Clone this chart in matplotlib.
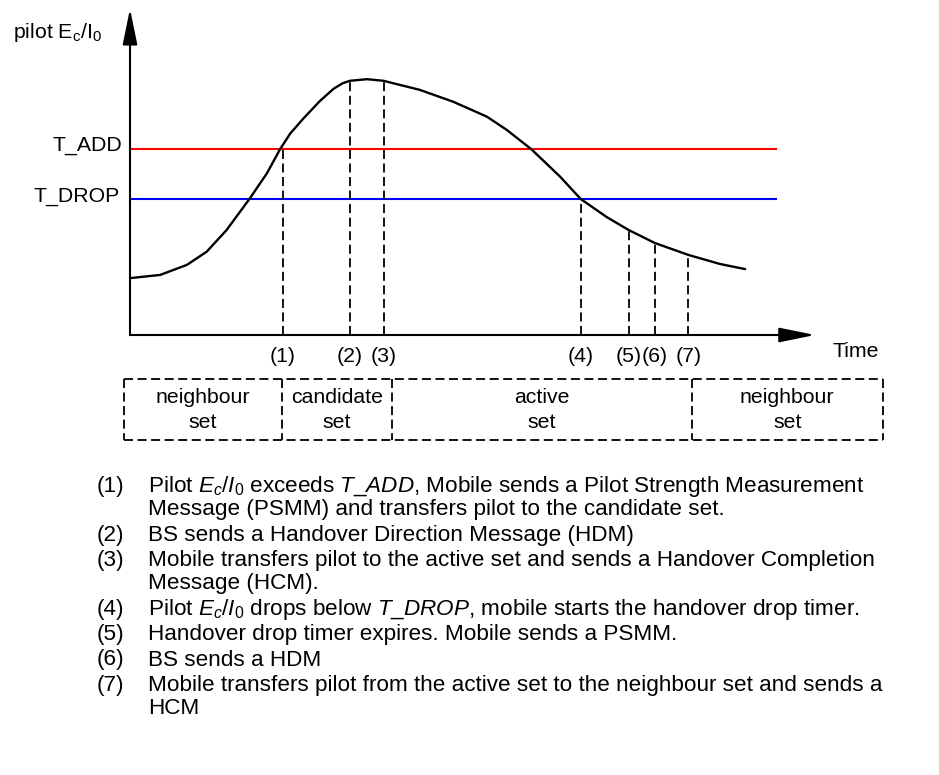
import matplotlib
matplotlib.use("Agg")
import matplotlib.pyplot as plt

plt.rcParams['font.family'] = ['Liberation Sans', 'DejaVu Sans']
plt.rcParams['mathtext.fontset'] = 'custom'
plt.rcParams['mathtext.rm'] = 'Liberation Sans'
plt.rcParams['mathtext.it'] = 'Liberation Sans:italic'
plt.rcParams['mathtext.bf'] = 'Liberation Sans:bold'

# -----------------------------
# DATA (time / pilot level in arbitrary units)
# -----------------------------
curve_t = [0, 4.4, 8.3, 11.2, 14.1, 17.5, 20.0, 21.9, 23.4, 25.3, 27.7, 29.7,
           31.0, 32.1, 34.6, 37.0, 42.3, 47.2, 52.1, 55.0, 58.6, 62.8, 65.8,
           69.6, 72.8, 76.6, 81.5, 86.1, 89.8]
curve_level = [17.6, 18.6, 21.7, 25.8, 32.5, 42.3, 50.1, 57.5, 62.4, 67.0, 72.4,
               76.2, 77.9, 78.7, 79.2, 78.7, 75.9, 72.2, 67.6, 63.5, 57.5, 49.0,
               42.1, 36.5, 32.5, 28.5, 24.8, 22.0, 20.4]

t_add = 57.6
t_drop = 42.1
threshold_end = 94.3

event_labels = ['(1)', '(2)', '(3)', '(4)', '(5)', '(6)', '(7)']
event_t = [22.3, 32.1, 37.1, 65.8, 72.8, 76.6, 81.5]
event_level = [57.6, 78.7, 78.7, 42.1, 32.5, 28.5, 24.8]

set_names = ['neighbour\nset', 'candidate\nset', 'active\nset', 'neighbour\nset']
set_edges = [-0.9, 22.2, 38.2, 82.0, 109.9]

notes_num = ['(1)', '(2)', '(3)', '(4)', '(5)', '(6)', '(7)']
notes_text = [
    ["Pilot $E_c/I_0$ exceeds $T\\_ADD$, Mobile sends a Pilot Strength Measurement",
     "Message (PSMM) and transfers pilot to the candidate set."],
    ["BS sends a Handover Direction Message (HDM)"],
    ["Mobile transfers pilot to the active set and sends a Handover Completion",
     "Message (HCM)."],
    ["Pilot $E_c/I_0$ drops below $T\\_DROP$, mobile starts the handover drop timer."],
    ["Handover drop timer expires. Mobile sends a PSMM."],
    ["BS sends a HDM"],
    ["Mobile transfers pilot from the active set to the neighbour set and sends a",
     "HCM"],
]

W, H = 939, 775
FS = 15.3
FS_NOTES = 16.2

fig = plt.figure(figsize=(W / 100, H / 100), dpi=100)
ax = fig.add_axes([130 / W, 1 - 335 / H, 685 / W, 323 / H])
ax.set_xlim(0, 100)
ax.set_ylim(0, 100)
ax.axis('off')

# axes arrows
arrow = dict(arrowstyle='-|>,head_length=2.2,head_width=0.45', mutation_scale=10,
             lw=1.5, color='black', shrinkA=0, shrinkB=0)
ax.annotate('', xy=(0, 101), xytext=(0, 0), arrowprops=arrow, annotation_clip=False)
ax.annotate('', xy=(100, 0), xytext=(0, 0), arrowprops=arrow, annotation_clip=False)

# thresholds
ax.plot([0, threshold_end], [t_add, t_add], color='#ff0000', lw=1.5)
ax.plot([0, threshold_end], [t_drop, t_drop], color='#0000ff', lw=1.5)
ax.text(-1.2, t_add + 1.2, 'T_ADD', ha='right', va='center', fontsize=FS)
ax.text(-1.5, t_drop + 0.9, 'T_DROP', ha='right', va='center', fontsize=FS)

# pilot curve
ax.plot(curve_t, curve_level, color='black', lw=1.7, solid_joinstyle='round',
        solid_capstyle='round', clip_on=False)

# events
for lab, t, lvl in zip(event_labels, event_t, event_level):
    ax.plot([t, t], [0, lvl], color='black', lw=1.3, ls=(0, (5, 2.5)))
    ax.text(t, -6.8, lab, ha='center', va='center', fontsize=FS)

ax.text(106, -5.0, 'Time', ha='center', va='center', fontsize=FS)
ax.text(-17.1, 93.8, r'pilot $\mathrm{E_c/I_0}$', ha='left', va='center', fontsize=FS)

# set boxes
box_top, box_bot = -13.6, -32.5
dash = (0, (5, 2.5))
ax.plot([set_edges[0], set_edges[-1]], [box_top, box_top], color='black', lw=1.3,
        ls=dash, clip_on=False)
ax.plot([set_edges[0], set_edges[-1]], [box_bot, box_bot], color='black', lw=1.3,
        ls=dash, clip_on=False)
for e in set_edges:
    ax.plot([e, e], [box_top, box_bot], color='black', lw=1.3, ls=dash, clip_on=False)
for i, name in enumerate(set_names):
    ax.text((set_edges[i] + set_edges[i + 1]) / 2, -23.2, name, ha='center',
            va='center', fontsize=FS, linespacing=1.35)

# notes below the chart
y = 492
for num, lines in zip(notes_num, notes_text):
    fig.text(97 / W, 1 - y / H, num, ha='left', va='baseline', fontsize=FS_NOTES)
    for line in lines:
        fig.text(148 / W, 1 - y / H, line, ha='left', va='baseline', fontsize=FS_NOTES)
        y += 23
    y += 2.5

fig.savefig('out.png', dpi=100)
